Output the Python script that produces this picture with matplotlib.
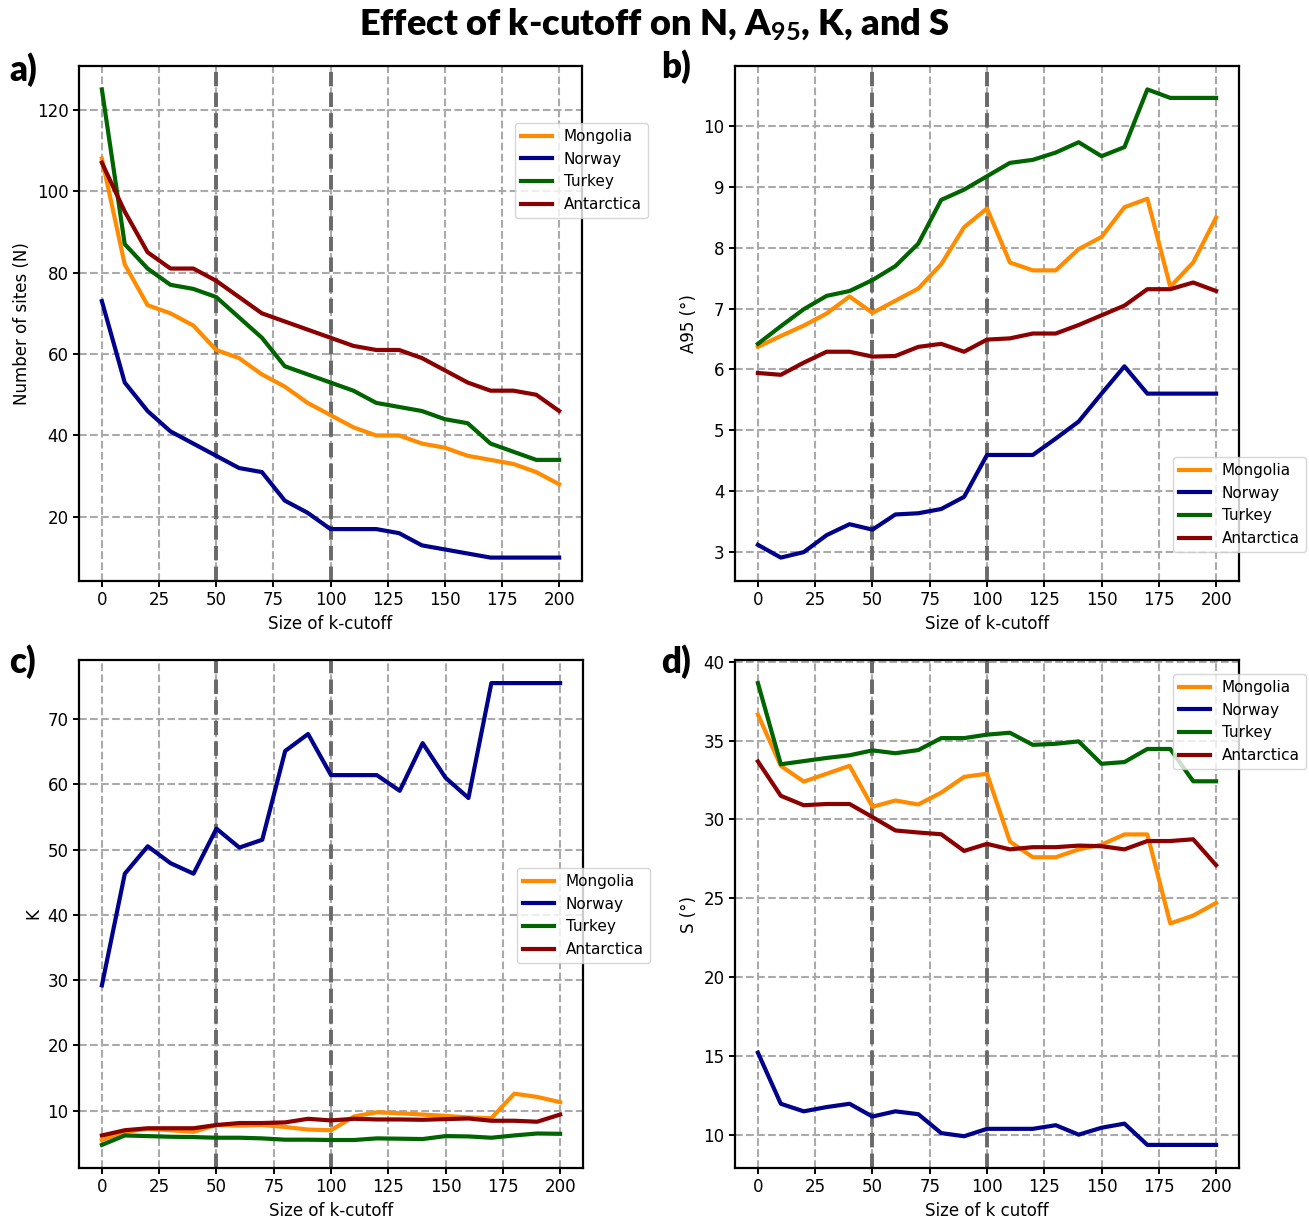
import matplotlib
matplotlib.use("Agg")
import matplotlib.pyplot as plt

cutoff = [0, 10, 20, 30, 40, 50, 60, 70, 80, 90, 100, 110, 120, 130, 140, 150, 160, 170, 180, 190, 200]
regions = ["Mongolia", "Norway", "Turkey", "Antarctica"]
colors = ["darkorange", "darkblue", "darkgreen", "darkred"]

# a) Number of sites
N_mongolia = [108, 82, 72, 70, 67, 61, 59, 55, 52, 48, 45, 42, 40, 40, 38, 37, 35, 34, 33, 31, 28]
N_norway = [73, 53, 46, 41, 38, 35, 32, 31, 24, 21, 17, 17, 17, 16, 13, 12, 11, 10, 10, 10, 10]
N_turkey = [125, 87, 81, 77, 76, 74, 69, 64, 57, 55, 53, 51, 48, 47, 46, 44, 43, 38, 36, 34, 34]
N_antarctica = [107, 95, 85, 81, 81, 78, 74, 70, 68, 66, 64, 62, 61, 61, 59, 56, 53, 51, 51, 50, 46]

# b) A95
A_mongolia = [6.37, 6.55, 6.72, 6.92, 7.20, 6.93, 7.13, 7.33, 7.73, 8.34, 8.65, 7.76, 7.63, 7.63, 7.98, 8.18, 8.67, 8.81, 7.36, 7.76, 8.50]
A_norway = [3.11, 2.90, 2.99, 3.27, 3.45, 3.36, 3.61, 3.63, 3.70, 3.90, 4.59, 4.59, 4.59, 4.86, 5.14, 5.60, 6.05, 5.60, 5.60, 5.60, 5.60]
A_turkey = [6.42, 6.71, 6.99, 7.21, 7.29, 7.47, 7.70, 8.07, 8.79, 8.96, 9.18, 9.40, 9.45, 9.57, 9.74, 9.51, 9.66, 10.61, 10.47, 10.47, 10.47]
A_antarctica = [5.94, 5.91, 6.11, 6.29, 6.29, 6.21, 6.22, 6.37, 6.42, 6.29, 6.49, 6.51, 6.59, 6.59, 6.73, 6.89, 7.05, 7.32, 7.32, 7.43, 7.29]

# c) K
K_mongolia = [5.5, 6.75, 7.2, 7.0, 6.75, 7.8, 7.7, 7.8, 7.5, 7.1, 7.0, 9.1, 9.75, 9.6, 9.4, 9.2, 8.95, 8.85, 12.6, 12.1, 11.3]
K_norway = [29.2, 46.3, 50.5, 47.9, 46.3, 53.2, 50.3, 51.5, 65.1, 67.7, 61.4, 61.4, 61.4, 59.0, 66.3, 61.0, 57.9, 75.5, 75.5, 75.5, 75.5]
K_turkey = [4.75, 6.2, 6.1, 6.0, 5.95, 5.85, 5.85, 5.75, 5.55, 5.55, 5.5, 5.5, 5.75, 5.7, 5.65, 6.1, 6.05, 5.85, 6.2, 6.5, 6.45]
K_antarctica = [6.2, 7.0, 7.3, 7.3, 7.3, 7.8, 8.1, 8.1, 8.2, 8.75, 8.5, 8.75, 8.65, 8.65, 8.6, 8.7, 8.8, 8.45, 8.45, 8.3, 9.4]

# d) S
S_mongolia = [36.65, 33.4, 32.4, 32.9, 33.4, 30.8, 31.2, 30.95, 31.7, 32.7, 32.9, 28.6, 27.6, 27.6, 28.1, 28.4, 29.05, 29.05, 23.4, 23.9, 24.7]
S_norway = [15.2, 11.96, 11.48, 11.75, 11.96, 11.15, 11.48, 11.3, 10.1, 9.9, 10.37, 10.37, 10.37, 10.6, 10.0, 10.44, 10.7, 9.35, 9.35, 9.35, 9.35]
S_turkey = [38.65, 33.5, 33.7, 33.9, 34.07, 34.38, 34.2, 34.4, 35.16, 35.16, 35.38, 35.5, 34.73, 34.8, 34.95, 33.53, 33.64, 34.47, 34.47, 32.42, 32.42]
S_antarctica = [33.68, 31.5, 30.9, 30.98, 30.98, 30.15, 29.3, 29.17, 29.06, 28.0, 28.45, 28.1, 28.24, 28.24, 28.34, 28.3, 28.1, 28.63, 28.63, 28.74, 27.1]

marked_cutoffs = [50, 100]

panels = [
    ("a)", [N_mongolia, N_norway, N_turkey, N_antarctica], "Size of k-cutoff", "Number of sites (N)"),
    ("b)", [A_mongolia, A_norway, A_turkey, A_antarctica], "Size of k-cutoff", "A95 (°)"),
    ("c)", [K_mongolia, K_norway, K_turkey, K_antarctica], "Size of k-cutoff", "K"),
    ("d)", [S_mongolia, S_norway, S_turkey, S_antarctica], "Size of k cutoff", "S (°)"),
]

W, H = 1309, 1218
plt.rcParams["font.family"] = "DejaVu Sans"
plt.rcParams["font.size"] = 12
plt.rcParams["axes.linewidth"] = 1.6
plt.rcParams["mathtext.fontset"] = "custom"
plt.rcParams["mathtext.rm"] = "Lato:bold"
plt.rcParams["mathtext.bf"] = "Lato:bold"
plt.rcParams["mathtext.it"] = "Lato:bold"

fig = plt.figure(figsize=(W / 100, H / 100), dpi=100)

# axes boxes in pixels (left, top, right, bottom)
boxes = [(79, 66, 582, 581), (735, 66, 1239, 581), (79, 660, 583, 1168), (735, 660, 1239, 1168)]
legend_pos = [(515, 123), (1173, 457), (517, 868), (1173, 674)]
label_pos = [(9, 70), (661, 67), (9, 662), (661, 662)]

for (tag, series, xl, yl), (l, t, r, b), (lx, ly), (px, py) in zip(panels, boxes, legend_pos, label_pos):
    ax = fig.add_axes([l / W, 1 - b / H, (r - l) / W, (b - t) / H])
    ax.grid(True, linestyle="--", color="#aaaaaa", linewidth=1.5, zorder=0)
    ax.set_axisbelow(True)
    for xv in marked_cutoffs:
        ax.axvline(xv, color="dimgray", linestyle="--", linewidth=2.8, zorder=1.5)
    for name, col, vals in zip(regions, colors, series):
        ax.plot(cutoff, vals, color=col, linewidth=3.0, label=name, zorder=2)
    ax.set_xlabel(xl, fontsize=12)
    ax.set_ylabel(yl, fontsize=12)
    ax.set_xticks([0, 25, 50, 75, 100, 125, 150, 175, 200])
    ax.tick_params(labelsize=12, width=1.4, length=4)
    ax.legend(loc="upper left", bbox_to_anchor=(lx / W, 1 - ly / H),
              bbox_transform=fig.transFigure, borderaxespad=0, fontsize=11)
    fig.text(px / W, 1 - py / H, tag, fontsize=25, fontweight="heavy",
             family="Lato", ha="left", va="center")

fig.text(0.5, 1 - 25 / H, r"Effect of k-cutoff on N, A$_{95}$, K, and S",
         fontsize=26, fontweight="heavy", family="Lato", ha="center", va="center")

fig.savefig("out.png", dpi=100)
